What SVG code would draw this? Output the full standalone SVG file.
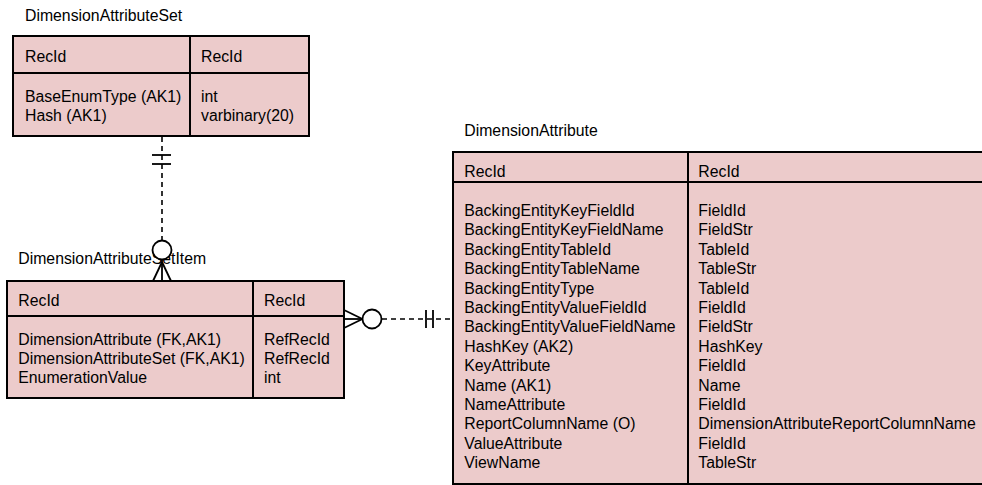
<svg xmlns="http://www.w3.org/2000/svg" width="982" height="485" viewBox="0 0 982 485">
<style>
text{font-family:"Liberation Sans",Arial,sans-serif;font-size:15.8px;fill:#000}
.box{fill:#ECCBCB;stroke:#000;stroke-width:2}
.ln{stroke:#000;stroke-width:2;fill:none}
.dash{stroke:#000;stroke-width:1.6;stroke-dasharray:5 4;fill:none}
.sym{stroke:#000;stroke-width:1.8;fill:none}
.circ{stroke:#000;stroke-width:1.8;fill:#fff}
</style>
<rect width="982" height="485" fill="#fff"/>
<g id="connectors">
<line class="dash" x1="162" y1="137" x2="162" y2="241"/>
<line class="sym" x1="152" y1="155" x2="171" y2="155"/>
<line class="sym" x1="152" y1="164" x2="171" y2="164"/>
<line class="dash" x1="382" y1="319" x2="452" y2="319"/>
<line class="sym" x1="426" y1="310" x2="426" y2="328"/>
<line class="sym" x1="433" y1="310" x2="433" y2="328"/>
</g>
<g id="DimensionAttributeSet">
<text x="25" y="20.5">DimensionAttributeSet</text>
<rect class="box" x="13" y="36" width="296" height="100"/>
<line class="ln" x1="13" y1="73" x2="309" y2="73"/>
<line class="ln" x1="190" y1="36" x2="190" y2="136"/>
<text x="25" y="62">RecId</text>
<text x="201" y="62">RecId</text>
<text x="25" y="101.7">BaseEnumType (AK1)</text>
<text x="25" y="121.2">Hash (AK1)</text>
<text x="201" y="101.7">int</text>
<text x="201" y="121.2">varbinary(20)</text>
</g>
<g id="DimensionAttributeSetItem">
<text x="18.3" y="264.3">DimensionAttributeSetItem</text>
<rect class="box" x="7" y="281" width="337" height="117"/>
<line class="ln" x1="7" y1="316" x2="344" y2="316"/>
<line class="ln" x1="253" y1="281" x2="253" y2="398"/>
<text x="18.3" y="305.7">RecId</text>
<text x="264" y="305.7">RecId</text>
<text x="18.3" y="344.7">DimensionAttribute (FK,AK1)</text>
<text x="18.3" y="364">DimensionAttributeSet (FK,AK1)</text>
<text x="18.3" y="383.3">EnumerationValue</text>
<text x="264" y="344.7">RefRecId</text>
<text x="264" y="364">RefRecId</text>
<text x="264" y="383.3">int</text>
</g>
<g id="DimensionAttribute">
<text x="464.3" y="136">DimensionAttribute</text>
<rect class="box" x="453" y="152" width="540" height="332"/>
<line class="ln" x1="453" y1="182" x2="993" y2="182"/>
<line class="ln" x1="688" y1="152" x2="688" y2="484"/>
<text x="464.3" y="176.7">RecId</text>
<text x="698.3" y="176.7">RecId</text>
<text x="464.3" y="216">BackingEntityKeyFieldId</text>
<text x="464.3" y="235.4">BackingEntityKeyFieldName</text>
<text x="464.3" y="254.8">BackingEntityTableId</text>
<text x="464.3" y="274.2">BackingEntityTableName</text>
<text x="464.3" y="293.6">BackingEntityType</text>
<text x="464.3" y="313">BackingEntityValueFieldId</text>
<text x="464.3" y="332.4">BackingEntityValueFieldName</text>
<text x="464.3" y="351.8">HashKey (AK2)</text>
<text x="464.3" y="371.2">KeyAttribute</text>
<text x="464.3" y="390.6">Name (AK1)</text>
<text x="464.3" y="410">NameAttribute</text>
<text x="464.3" y="429.4">ReportColumnName (O)</text>
<text x="464.3" y="448.8">ValueAttribute</text>
<text x="464.3" y="468.2">ViewName</text>
<text x="698.3" y="216">FieldId</text>
<text x="698.3" y="235.4">FieldStr</text>
<text x="698.3" y="254.8">TableId</text>
<text x="698.3" y="274.2">TableStr</text>
<text x="698.3" y="293.6">TableId</text>
<text x="698.3" y="313">FieldId</text>
<text x="698.3" y="332.4">FieldStr</text>
<text x="698.3" y="351.8">HashKey</text>
<text x="698.3" y="371.2">FieldId</text>
<text x="698.3" y="390.6">Name</text>
<text x="698.3" y="410">FieldId</text>
<text x="698.3" y="429.4">DimensionAttributeReportColumnName</text>
<text x="698.3" y="448.8">FieldId</text>
<text x="698.3" y="468.2">TableStr</text>
</g>
<g id="connector-ends">
<circle class="circ" cx="162" cy="250" r="9.5"/>
<line class="sym" x1="162" y1="262" x2="153" y2="281"/>
<line class="sym" x1="162" y1="262" x2="171" y2="281"/>
<line class="sym" x1="162" y1="259.5" x2="162" y2="281"/>
<circle class="circ" cx="372" cy="319" r="9.5"/>
<line class="sym" x1="362.5" y1="319" x2="344" y2="310"/>
<line class="sym" x1="362.5" y1="319" x2="344" y2="328"/>
<line class="sym" x1="362.5" y1="319" x2="344" y2="319"/>
</g>
</svg>
